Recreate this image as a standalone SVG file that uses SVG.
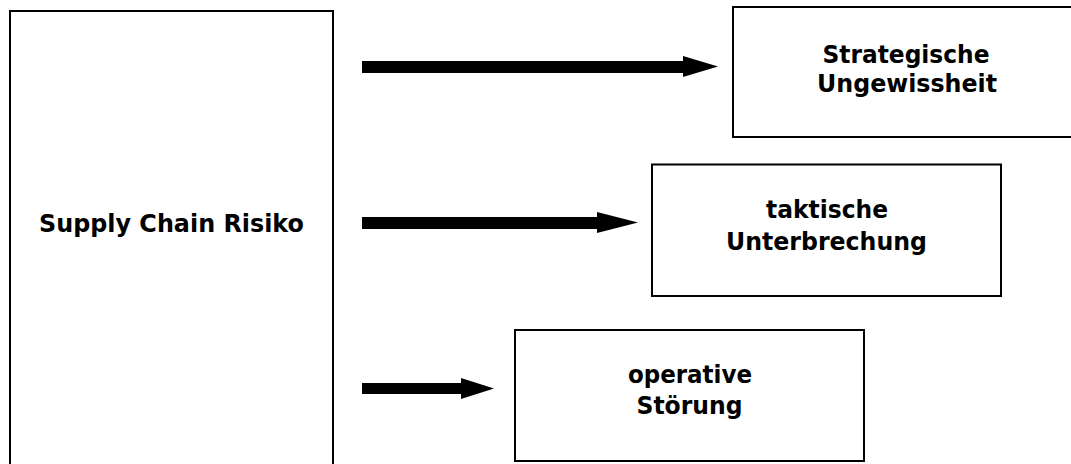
<svg xmlns="http://www.w3.org/2000/svg" width="1071" height="464" viewBox="0 0 1071 464">
  <style>
    .box { fill: #ffffff; stroke: #000000; stroke-width: 2; }
    .label { font-family: "DejaVu Sans", "Verdana", sans-serif; font-weight: bold; font-size: 25px; fill: #000000; text-anchor: middle; }
    .arrow { fill: #000000; stroke: none; }
  </style>
  <rect width="1071" height="464" fill="#ffffff"/>

  <g id="node-supply-chain-risiko">
    <rect class="box" x="10" y="11" width="323" height="470"/>
    <text class="label" x="171.5" y="232" textLength="265" lengthAdjust="spacingAndGlyphs">Supply Chain Risiko</text>
  </g>

  <g id="node-strategische-ungewissheit">
    <rect class="box" x="733" y="7" width="350" height="130"/>
    <text class="label" x="906" y="63" textLength="167" lengthAdjust="spacingAndGlyphs">Strategische</text>
    <text class="label" x="907" y="92" textLength="180" lengthAdjust="spacingAndGlyphs">Ungewissheit</text>
  </g>

  <g id="node-taktische-unterbrechung">
    <rect class="box" x="652" y="164.5" width="349" height="131.5"/>
    <text class="label" x="827" y="218" textLength="122" lengthAdjust="spacingAndGlyphs">taktische</text>
    <text class="label" x="826.5" y="250" textLength="201" lengthAdjust="spacingAndGlyphs">Unterbrechung</text>
  </g>

  <g id="node-operative-stoerung">
    <rect class="box" x="515" y="330" width="349" height="131"/>
    <text class="label" x="690" y="383" textLength="124" lengthAdjust="spacingAndGlyphs">operative</text>
    <text class="label" x="689.5" y="414" textLength="106" lengthAdjust="spacingAndGlyphs">Störung</text>
  </g>

  <g id="connectors">
    <polygon class="arrow" points="362,61 683,61 683,56 718,66.5 683,77 683,73 362,73"/>
    <polygon class="arrow" points="362,217 597,217 597,212 638,222.5 597,233 597,229 362,229"/>
    <polygon class="arrow" points="362,383 461,383 461,378 494,388.5 461,399 461,394 362,394"/>
  </g>
</svg>
